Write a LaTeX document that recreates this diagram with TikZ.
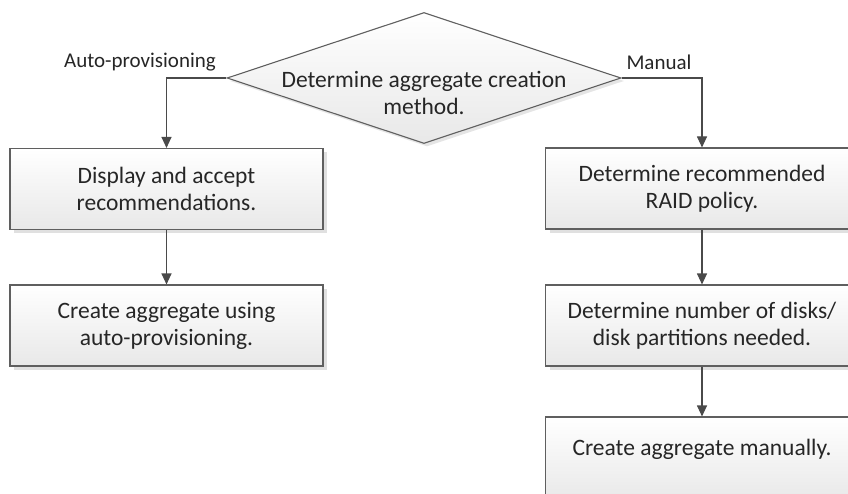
\documentclass[tikz,border=0pt]{standalone}
\usepackage{fontspec}
\setmainfont{Carlito}
\usetikzlibrary{arrows.meta,shapes.geometric,shadows}
\definecolor{edgegray}{HTML}{5F5F5F}
\definecolor{arrowgray}{HTML}{4A4A4A}
\definecolor{textgray}{HTML}{262626}
\tikzset{
  box/.style={rectangle, draw=edgegray, line width=1.1pt,
    top color=white, bottom color=black!9,
    drop shadow={shadow xshift=4pt, shadow yshift=-4pt, fill=black!12, opacity=1},
    minimum width=313pt, minimum height=81pt, inner sep=0pt,
    align=center, text=textgray, font=\fontsize{23.5}{27}\selectfont},
  decision/.style={diamond, draw=edgegray, line width=1.1pt,
    top color=white, bottom color=black!9,
    drop shadow={shadow xshift=3pt, shadow yshift=-3pt, fill=black!10, opacity=1},
    minimum width=394pt, minimum height=131pt, inner sep=0pt},
  txt/.style={align=center, text=textgray, font=\fontsize{23.5}{27}\selectfont, inner sep=0pt},
  lbl/.style={text=textgray, font=\fontsize{21}{24}\selectfont, inner sep=0pt},
  conn/.style={draw=arrowgray, line width=1.1pt,
    -{Triangle[width=10pt,length=11pt]}}
}
\begin{document}
\begin{tikzpicture}[x=1pt,y=-1pt]
\useasboundingbox (0,0) rectangle (848,494);
\node[decision] (dia) at (424,78) {};
\node[txt] (diat) at (424,93) {Determine aggregate creation\\method.};
\node[box] (b1) at (166.5,189) {Display and accept\\recommendations.};
\node[box] (b2) at (166.5,325.5) {Create aggregate using\\auto-provisioning.};
\node[box] (b3) at (702,188.5) {Determine recommended\\RAID policy.};
\node[box] (b4) at (702,325.5) {Determine number of disks/\\disk partitions needed.};
\node[box, minimum height=84pt] (b5) at (702,459) {};
\node[txt] (b5t) at (702,449) {Create aggregate manually.};
\node[lbl] (la) at (140,62) {Auto-provisioning};
\node[lbl] (lm) at (659,62) {Manual};
\draw[conn] (dia.west) -| (b1.north);
\draw[conn] (dia.east) -| (b3.north);
\draw[conn] (b1.south) -- (b2.north);
\draw[conn] (b3.south) -- (b4.north);
\draw[conn] (b4.south) -- (b5.north);
\end{tikzpicture}
\end{document}
